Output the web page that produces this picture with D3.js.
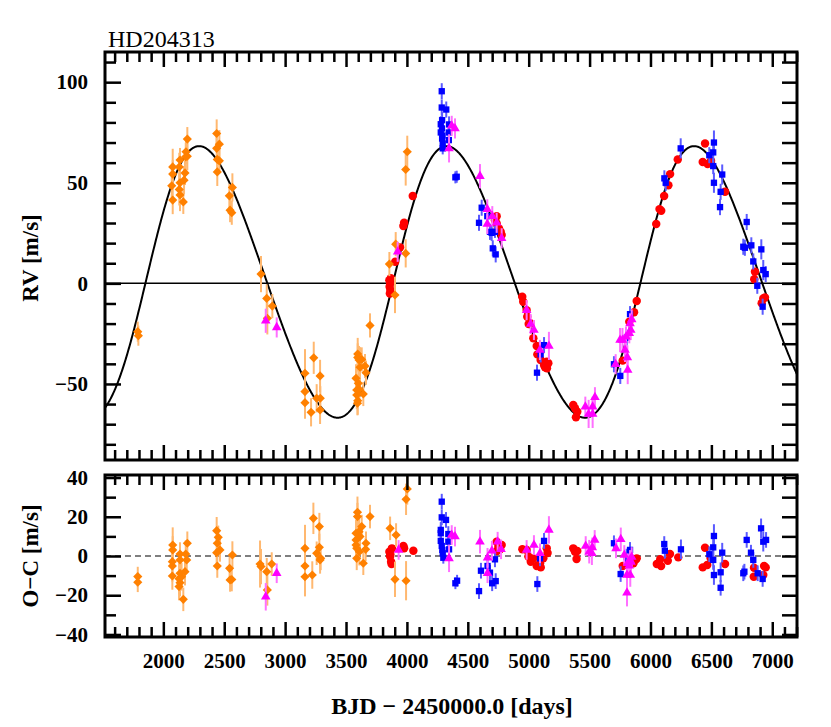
<!DOCTYPE html>
<html>
<head>
<meta charset="utf-8">
<script src="https://cdn.jsdelivr.net/npm/d3@7"></script>
<style>
  body { margin: 0; background: #fff; }
  svg text { font-family: "Liberation Serif", "Times New Roman", serif; }
</style>
</head>
<body>
<svg id="chart" width="831" height="727"></svg>
<script>
// ---- data: [BJD-2450000, value, error] ----
const orangeRV = [
  [1790,-24,5],[1795,-26,5],
  [2069,48.5,8],[2077,57.9,9],[2077,54.3,7],[2077,41.4,7],[2131,57.9,7],[2137,61.3,6],[2137,50,7],[2131,46.7,8],
  [2137,43.9,8],[2164,40.5,6],[2170,51.3,7],[2178,54.9,6],[2184,62.9,7],[2186,65.4,6],[2197,71.7,6],[2197,63.2,7],
  [2438,74.5,7],[2460,69.2,7],[2438,67.1,6],[2443,61.6,7],[2460,60.9,6],[2443,55.4,7],[2542,43.5,6],[2567,47.7,7],
  [2548,36.4,6],[2562,35.1,6],
  [2802,4.6,9],[2849,-7.5,7],[2895,-11.3,6],[2854,-17.4,8],
  [3163,-44.7,12],[3163,-53.8,8],[3163,-59.3,8],[3213,-64.1,7],[3235,-37,8],[3259,-57.1,7],[3289,-57.1,6],
  [3287,-46,8],[3287,-62.9,7],
  [3596,-35.1,8],[3596,-36.8,7],[3607,-38.1,7],[3629,-37.8,6],[3615,-41.7,10],[3656,-41.1,6],[3664,-44.4,6],
  [3582,-47.2,7],[3601,-49.7,7],[3588,-53,8],[3609,-52.7,6],[3588,-55.5,7],[3642,-55,6],[3596,-58.3,7],
  [3594,-59.6,6],[3697,-20.9,6],
  [3856,9.6,6],[3902,-5.8,9],[3908,19.5,6],[3990,14.9,7],[4003,65.4,8],[3990,56.6,8]
];
const orangeOC = [
  [1790,-10.5,5],[1790,-13.4,5],
  [2077,5.6,9],[2077,3.1,7],[2074,-2.9,7],[2074,-5.1,8],[2074,-10.2,7],[2137,1,6],[2137,-2,7],[2137,-8.8,8],
  [2129,-11.6,8],[2129,-15.6,7],[2137,-13.6,7],[2164,-22.1,6],[2178,-8,7],[2184,1,7],[2192,-2,6],[2197,6.5,6],
  [2150,-10.6,7],
  [2438,12.9,7],[2443,6.5,7],[2451,9.5,6],[2465,3.1,6],[2438,1.7,7],[2443,-5.1,6],[2544,-6.3,6],[2548,-12.2,6],
  [2562,-12,6],[2567,0.5,7],
  [2794,-4.1,12],[2802,-5.4,9],[2849,-8,7],[2854,-17.3,8],[2890,-4.1,6],
  [3163,3.9,12],[3163,-5.1,8],[3163,-10.6,10],[3223,-9.7,7],[3232,19.2,8],[3281,15,7],[3281,4.4,7],[3259,1.4,6],
  [3292,-1.2,6],[3287,-2,7],
  [3594,22.3,8],[3594,20.1,7],[3582,11.6,7],[3607,12.4,7],[3629,15,6],[3582,8.2,10],[3582,5.6,7],[3588,3.9,7],
  [3609,2.2,7],[3588,-1.2,6],[3642,-3.7,6],[3664,6.5,6],[3661,3.4,6],[3697,20.1,6],[3615,9.9,7],
  [3862,14.1,6],[3911,10.7,6],[3902,-11.9,9],[3993,28.9,8],[4003,34.2,8],[3993,-12.6,10]
];
const blueRV = [
  [4286,95.5,4],[4286,87.4,4],[4323,86.4,4],[4278,79.1,4],[4289,81.1,4],[4278,75,3],[4346,79,4],[4344,75,4],
  [4289,72,3],[4344,71.2,4],[4294,69.5,3],[4294,67.1,3],[4409,53,3],[4398,52.7,3],[4288,77,3],[4292,73.5,3],
  [4614,37.6,4],[4592,30.1,4],[4660,33.4,4],[4682,25.6,4],[4696,25.1,4],[4723,25.6,3],[4705,17.4,4],[4729,14.4,4],
  [5126,-30.7,4],[5098,-35.3,4],[5068,-44.4,4],[5700,-40.2,4],[5752,-46,4],[5805,-27,4],[5832,-15.3,4],
  [6114,52.2,4],[6125,50,4],[6248,67.1,5],[6521,70,6],[6515,65.1,5],[6483,63.7,4],[6515,58.3,4],[6589,54.1,5],
  [6521,50,5],[6576,45.5,4],[6571,37.9,4],[6790,30.5,4],[6762,18.2,4],[6775,17.7,4],[6828,18.9,4],[6844,10.9,4],
  [6910,16.9,5],[6926,6.6,5],[6946,4.6,4],[6877,-1.2,4],[6921,-11.6,4]
];
const blueOC = [
  [4286,27.7,4],[4286,19.7,4],[4321,18.4,4],[4278,13.3,4],[4278,11.6,4],[4340,11.2,4],[4278,7.7,4],[4286,5.1,4],
  [4291,3.1,3],[4294,1.4,3],[4299,-0.9,3],[4340,7.3,4],[4346,3.4,4],[4398,-13.9,3],[4412,-12.6,3],
  [4592,-17.9,4],[4608,-7.5,4],[4662,-5.1,4],[4682,-8.5,4],[4700,-13.9,4],[4729,-12.8,4],[4723,-1.7,4],
  [5071,-14.3,4],[5093,-1.2,4],[5126,7.7,4],
  [5700,6.5,4],[5755,-9.2,4],[5804,-0.3,4],[5832,3.1,4],[5815,-1.5,4],
  [6113,6.1,4],[6118,2.7,4],[6250,3.4,5],
  [6521,10.2,6],[6515,4.4,5],[6483,0.9,4],[6515,-2,5],[6521,-9.7,5],[6576,-16.2,4],[6576,-8.3,5],[6589,1.7,5],
  [6790,8.2,4],[6771,-8,4],[6762,-8.8,4],[6825,1.7,4],[6844,-2,4],[6880,-8.8,4],[6908,14.1,5],[6926,7.3,5],
  [6949,8.2,4],[6921,-11.7,4]
];
const magentaRV = [
  [2841,-18.6,6],[2931,-21.9,5],[3924,15.7,5],
  [4368,78.3,5],[4395,77,5],[4346,67.1,7],[4600,53.3,6],[4660,36.8,5],[4660,29.5,5],[4701,33.4,5],[4737,30.1,5],
  [4778,22.4,5],
  [4983,-13.3,5],[5016,-20.2,5],[5043,-23.2,5],[5092,-33.1,5],[5166,-31.1,7],
  [5465,-61.3,5],[5492,-64.9,7],[5525,-61.3,5],[5525,-64.9,7],[5544,-56.6,5],
  [5714,-40.2,5],[5750,-28.2,6],[5770,-28.2,6],[5791,-33.1,6],[5799,-26.5,5],[5810,-36.8,6],[5813,-43.1,7],
  [5826,-24.8,5],[5832,-19.9,5],[5838,-23.2,5],[5846,-17.9,5]
];
const magentaOC = [
  [2841,-20.8,7],[2931,-8.8,5],[3932,3.1,5],
  [4368,10.7,5],[4395,9.9,5],[4346,-1.2,7],[4600,7.3,6],[4662,-0.9,5],[4662,-8.8,5],[4698,2.7,5],[4745,7.3,5],
  [4773,3.4,5],
  [4983,3.1,5],[5043,5.6,5],[5093,1.4,5],[5166,13.3,7],
  [5468,5.1,5],[5497,2.2,6],[5522,4.4,5],[5542,8.2,5],[5519,1.4,6],
  [5717,3.9,5],[5756,8.5,6],[5807,-18.7,7],[5807,-9.7,6],[5834,-9.7,6],[5812,-3.7,5],[5785,0.5,5],[5832,-2,5],
  [5825,-5,6],[5840,-3,5],[5846,-0.5,5]
];
const redRV = [
  [3856,1.6,1],[3862,0,1],[3858,-1.7,1],[3864,-3.3,1],[3860,-5,1],[3868,2.5,1],
  [3904,10.7,1],[3944,17.9,1],[3971,28.5,1],[3977,30.1,1],[4048,43.4,1],
  [4737,33.4,1],[4723,31.4,1],[4737,29.8,1],[4756,27.3,1],[4770,25.6,1],[4778,24,1],[4745,27,1],
  [4947,-6.7,1],[4955,-9.1,1],[4983,-13.3,1],[4988,-16.6,1],[5000,-20.2,1],[5038,-27.3,1],[5066,-31.1,1],
  [5071,-35.3,1],[5098,-38.1,1],[5126,-40.6,1],[5148,-38.9,1],[5134,-41.7,1],[5161,-39.7,1],[5017,-19.9,1],
  [5150,-42.2,1],
  [5366,-60.5,1],[5380,-62.1,1],[5399,-63.8,1],[5388,-66.6,1],
  [5772,-38.4,1],[5826,-19.1,1],[5865,-14.4,1],[5887,-8.8,1],
  [6047,29.5,1],[6074,36.9,1],[6088,36.1,1],[6112,43.4,1],[6147,48.8,1],[6161,54.3,1],[6224,61.6,1],
  [6448,69.5,1],[6429,60.3,1],[6469,59.3,1],[6497,60.9,1],[6612,45.5,1],
  [6858,5.8,1],[6852,2,1],[6926,-7.5,1],[6940,-7,1],[6913,-9.9,1]
];
const redOC = [
  [3856,2.2,1],[3862,-0.3,1],[3870,-2.9,1],[3864,0.8,1],[3874,-4.1,1],[3877,3.9,1],
  [3971,5.1,1],[3977,4,1],[4053,2.7,1],
  [4737,7.3,1],[4751,4.7,1],[4765,3.4,1],[4740,2.5,1],[4778,5.6,1],
  [4948,3.4,1],[4983,3.1,1],[4997,-0.3,1],[5017,-2.9,1],[5066,-5.1,1],[5093,-3.7,1],[5120,-1.2,1],[5148,3.9,1],
  [5155,1.5,1],[5099,-5.8,1],[5038,-1.2,1],
  [5366,3.9,1],[5380,2.2,1],[5399,2.5,1],[5393,-1.5,1],
  [5772,-5.1,1],[5880,-1.7,1],[5887,-1.2,1],[5860,-3.7,1],
  [6052,-4.1,1],[6087,-5.1,1],[6080,-1.7,1],[6142,-2.4,1],[6160,1,1],[6228,-0.7,1],
  [6448,4.2,1],[6429,-5.8,1],[6466,-4.6,1],[6494,-1.2,1],[6612,-4.1,1],
  [6850,-6,1],[6848,-10.6,1],[6933,-5.1,1],[6946,-5.8,1],[6926,-9.7,1]
];

// keplerian model (estimated from the drawn curve)
const orbitP = 2032, orbitK = 67.5, orbitE = 0.095, orbitW = 280, orbitTp = 3934, orbitGamma = -0.4;

const xTickLabels = [2000, 2500, 3000, 3500, 4000, 4500, 5000, 5500, 6000, 6500, 7000];
const rvTickLabels = [-50, 0, 50, 100];
const ocTickLabels = [-40, -20, 0, 20, 40];

// ---- layout ----
const svg = d3.select("#chart");
const left = 105, right = 797;
const topY0 = 52, topY1 = 460, botY0 = 475, botY1 = 637;

const x = d3.scaleLinear().domain([1521, 7203]).range([left, right]);
const yRV = d3.scaleLinear().domain([-87.8, 115]).range([topY1, topY0]);
const yOC = d3.scaleLinear().domain([-41.3, 41.3]).range([botY1, botY0]);

function keplerRV(t) {
  const M = 2 * Math.PI * (t - orbitTp) / orbitP;
  let E = M;
  for (let i = 0; i < 10; i++) {
    E = E - (E - orbitE * Math.sin(E) - M) / (1 - orbitE * Math.cos(E));
  }
  const nu = 2 * Math.atan2(Math.sqrt(1 + orbitE) * Math.sin(E / 2), Math.sqrt(1 - orbitE) * Math.cos(E / 2));
  const w = orbitW * Math.PI / 180;
  return orbitK * (Math.cos(nu + w) + orbitE * Math.cos(w)) + orbitGamma;
}

const defs = svg.append("defs");
defs.append("clipPath").attr("id", "clipTop")
  .append("rect").attr("x", left).attr("y", topY0).attr("width", right - left).attr("height", topY1 - topY0);
defs.append("clipPath").attr("id", "clipBot")
  .append("rect").attr("x", left).attr("y", botY0).attr("width", right - left).attr("height", botY1 - botY0);

// custom symbols
const diamond = {
  draw: function (ctx, size) {
    const r = Math.sqrt(size / 2);
    ctx.moveTo(0, -r); ctx.lineTo(r, 0); ctx.lineTo(0, r); ctx.lineTo(-r, 0); ctx.closePath();
  }
};

const sets = [
  { rv: redRV, oc: redOC, color: "#ff0000", bar: "#ff6060", sym: d3.symbolCircle, size: 56 },
  { rv: orangeRV, oc: orangeOC, color: "#ff8000", bar: "#ffb870", sym: diamond, size: 42 },
  { rv: blueRV, oc: blueOC, color: "#0000ff", bar: "#5a5aff", sym: d3.symbolSquare, size: 40 },
  { rv: magentaRV, oc: magentaOC, color: "#ff00ff", bar: "#ff70ff", sym: d3.symbolTriangle, size: 40 }
];

// ---- top panel ----
const gTop = svg.append("g").attr("clip-path", "url(#clipTop)");
gTop.append("line")
  .attr("x1", left).attr("x2", right).attr("y1", yRV(0)).attr("y2", yRV(0))
  .attr("stroke", "#000").attr("stroke-width", 1.5);

const curveTimes = d3.range(1521, 7204, 4);
gTop.append("path")
  .datum(curveTimes)
  .attr("fill", "none")
  .attr("stroke", "#000")
  .attr("stroke-width", 2)
  .attr("d", d3.line().x(d => x(d)).y(d => yRV(keplerRV(d))));

// ---- bottom panel ----
const gBot = svg.append("g").attr("clip-path", "url(#clipBot)");
gBot.append("line")
  .attr("x1", left).attr("x2", right).attr("y1", yOC(0)).attr("y2", yOC(0))
  .attr("stroke", "#000").attr("stroke-width", 1.2).attr("stroke-dasharray", "6,4");

function drawPoints(g, data, y, s) {
  g.append("g").selectAll("line")
    .data(data)
    .join("line")
    .attr("x1", d => x(d[0])).attr("x2", d => x(d[0]))
    .attr("y1", d => y(d[1] - d[2])).attr("y2", d => y(d[1] + d[2]))
    .attr("stroke", s.bar).attr("stroke-width", 2);
  g.append("g").selectAll("path")
    .data(data)
    .join("path")
    .attr("transform", d => `translate(${x(d[0])},${y(d[1])})`)
    .attr("d", d3.symbol().type(s.sym).size(s.size))
    .attr("fill", s.color);
}

sets.forEach(function (s) {
  drawPoints(gTop, s.rv, yRV, s);
  drawPoints(gBot, s.oc, yOC, s);
});

// ---- frames and ticks ----
const majorX = d3.range(2000, 7001, 500);
const minorX = d3.range(1600, 7201, 100).filter(v => v % 500 !== 0);

function frame(y, y0, y1, majorY, minorY) {
  const g = svg.append("g");
  const addAxis = function (axis, tx, ty) {
    const a = g.append("g").attr("transform", `translate(${tx},${ty})`).call(axis);
    a.select(".domain").remove();
    a.selectAll("line").attr("stroke", "#000").attr("stroke-width", 2.5);
  };
  addAxis(d3.axisBottom(x).tickValues(majorX).tickSize(15).tickFormat(""), 0, y0);
  addAxis(d3.axisBottom(x).tickValues(minorX).tickSize(10).tickFormat(""), 0, y0);
  addAxis(d3.axisTop(x).tickValues(majorX).tickSize(15).tickFormat(""), 0, y1);
  addAxis(d3.axisTop(x).tickValues(minorX).tickSize(10).tickFormat(""), 0, y1);
  addAxis(d3.axisRight(y).tickValues(majorY).tickSize(16).tickFormat(""), left, 0);
  addAxis(d3.axisRight(y).tickValues(minorY).tickSize(11).tickFormat(""), left, 0);
  addAxis(d3.axisLeft(y).tickValues(majorY).tickSize(15).tickFormat(""), right, 0);
  addAxis(d3.axisLeft(y).tickValues(minorY).tickSize(15).tickFormat(""), right, 0);
  g.append("rect")
    .attr("x", left).attr("y", y0).attr("width", right - left).attr("height", y1 - y0)
    .attr("fill", "none").attr("stroke", "#000").attr("stroke-width", 3);
}

frame(yRV, topY0, topY1, [-50, 0, 50, 100], d3.range(-80, 111, 10).filter(v => v % 50 !== 0));
frame(yOC, botY0, botY1, ocTickLabels, [-30, -10, 10, 30]);

// ---- tick labels ----
function labels(axis, tx, ty) {
  const a = svg.append("g").attr("transform", `translate(${tx},${ty})`).call(axis);
  a.select(".domain").remove();
  a.selectAll("line").remove();
  a.selectAll("text")
    .attr("fill", "#000")
    .style("font-family", "'Liberation Serif', 'Times New Roman', serif")
    .style("font-weight", "bold")
    .style("font-size", "21px");
}
labels(d3.axisLeft(yRV).tickValues(rvTickLabels).tickSize(0).tickPadding(17), left, 0);
labels(d3.axisLeft(yOC).tickValues(ocTickLabels).tickSize(0).tickPadding(17), left, 0);
labels(d3.axisBottom(x).tickValues(xTickLabels).tickSize(0).tickPadding(16).tickFormat(d3.format("d")), 0, botY1);

// ---- titles ----
svg.append("text")
  .attr("x", 108).attr("y", 47)
  .style("font-size", "24px")
  .text("HD204313");

svg.append("text")
  .attr("transform", `translate(38,${(topY0 + topY1) / 2 + 2}) rotate(-90)`)
  .attr("text-anchor", "middle")
  .style("font-size", "23px").style("font-weight", "bold")
  .text("RV [m/s]");

svg.append("text")
  .attr("transform", `translate(38,${(botY0 + botY1) / 2}) rotate(-90)`)
  .attr("text-anchor", "middle")
  .style("font-size", "23px").style("font-weight", "bold")
  .text("O−C [m/s]");

svg.append("text")
  .attr("x", 452).attr("y", 714)
  .attr("text-anchor", "middle")
  .style("font-size", "24px").style("font-weight", "bold")
  .text("BJD − 2450000.0 [days]");
</script>
</body>
</html>
